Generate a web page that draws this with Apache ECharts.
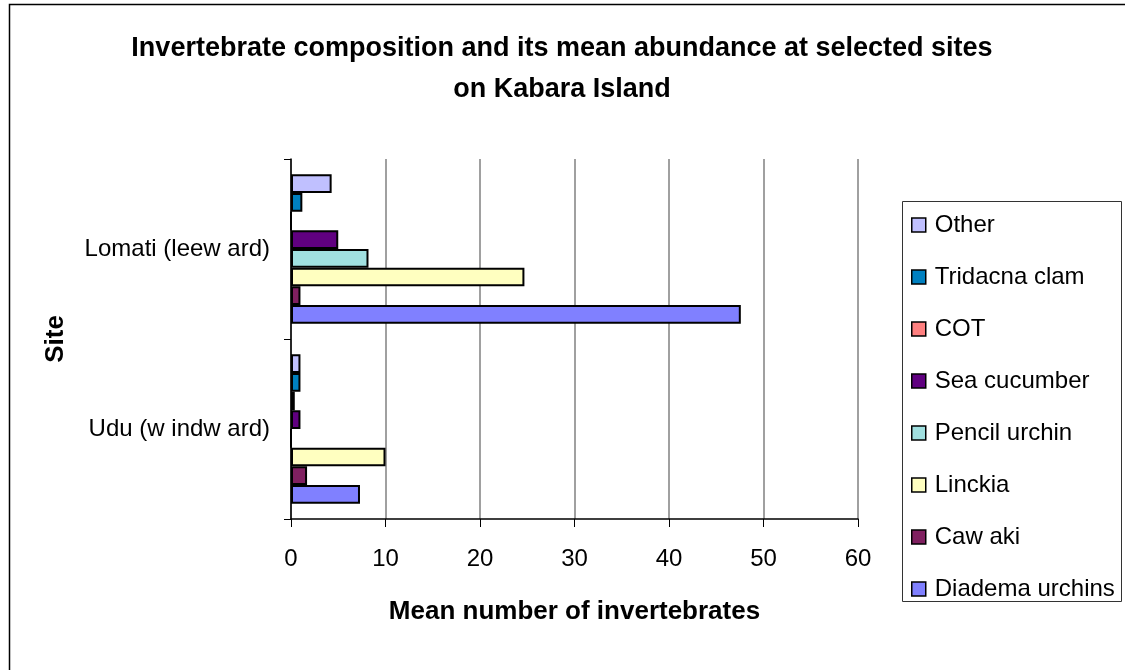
<!DOCTYPE html>
<html>
<head>
<meta charset="utf-8">
<script src="https://cdn.jsdelivr.net/npm/echarts@6/dist/echarts.min.js"></script>
<style>
html,body{margin:0;padding:0;background:#fff;}
#chart{width:1125px;height:670px;}
</style>
</head>
<body>
<div id="chart"></div>
<script>
// Data
const sites = ['Udu (w indw ard)', 'Lomati (leew ard)'];
const seriesNames = ['Other', 'Tridacna clam', 'COT', 'Sea cucumber', 'Pencil urchin', 'Linckia', 'Caw aki', 'Diadema urchins'];
const other = [1.0, 4.3];
const tridacna = [1.0, 1.2];
const cot = [0.4, 0];
const seaCucumber = [1.0, 5.0];
const pencil = [0, 8.2];
const linckia = [10.0, 24.7];
const cawaki = [1.7, 1.0];
const diadema = [7.3, 47.6];
const xTicks = [0, 10, 20, 30, 40, 50, 60];

const values = [other, tridacna, cot, seaCucumber, pencil, linckia, cawaki, diadema];
const colors = ['#C0C0FF', '#0080C0', '#FF8080', '#600080', '#A0E0E0', '#FFFFC0', '#802060', '#8080FF'];

const FONT = '"Liberation Sans", Arial, sans-serif';

const chart = echarts.init(document.getElementById('chart'), null, {renderer: 'canvas'});

const series = seriesNames.map((name, i) => ({
  name: name,
  type: 'bar',
  data: values[i],
  barGap: '0%',
  barCategoryGap: '17%',
  itemStyle: {color: colors[i], borderColor: '#000', borderWidth: 2},
  emphasis: {disabled: true},
  animation: false
}));

chart.setOption({
  animation: false,
  backgroundColor: '#fff',
  title: {
    text: 'Invertebrate composition and its mean abundance at selected sites\non Kabara Island',
    left: 557,
    top: 23,
    textAlign: 'center',
    textStyle: {fontFamily: FONT, fontSize: 27, fontWeight: 'bold', color: '#000', lineHeight: 41}
  },
  graphic: [
    {type: 'rect', left: 7, top: 2, shape: {width: 1130, height: 680},
     style: {fill: 'none', stroke: '#000', lineWidth: 1.5}, silent: true},
    {type: 'rect', left: 902, top: 201, shape: {width: 219, height: 400},
     style: {fill: '#fff', stroke: '#333', lineWidth: 1}, silent: true, z: 0}
  ],
  legend: {
    orient: 'vertical',
    left: 911,
    top: 213,
    padding: 0,
    itemGap: 28,
    itemWidth: 14,
    itemHeight: 14,
    icon: 'rect',
    data: seriesNames,
    itemStyle: {borderColor: '#000', borderWidth: 1.5},
    textStyle: {fontFamily: FONT, fontSize: 24, color: '#000', padding: [0, 0, 0, 4]},
    selectedMode: false,
    z: 5
  },
  grid: {left: 291, top: 159, width: 567, height: 360, containLabel: false},
  xAxis: {
    type: 'value',
    min: xTicks[0],
    max: xTicks[xTicks.length - 1],
    interval: 10,
    name: 'Mean number of invertebrates',
    nameLocation: 'middle',
    nameGap: 80,
    nameTextStyle: {fontFamily: FONT, fontSize: 26, fontWeight: 'bold', color: '#000'},
    axisLine: {show: true, onZero: false, lineStyle: {color: '#000', width: 1.5}},
    axisTick: {show: true, length: 8, lineStyle: {color: '#000'}},
    axisLabel: {fontFamily: FONT, fontSize: 24, color: '#000', margin: 28},
    splitLine: {show: true, lineStyle: {color: '#808080', width: 1.5}}
  },
  yAxis: {
    type: 'category',
    data: sites,
    name: 'Site',
    nameLocation: 'middle',
    nameGap: 222,
    nameRotate: 90,
    nameTextStyle: {fontFamily: FONT, fontSize: 26, fontWeight: 'bold', color: '#000'},
    axisLine: {show: true, lineStyle: {color: '#000', width: 1.5}},
    axisTick: {show: true, length: 7, lineStyle: {color: '#000'}},
    axisLabel: {fontFamily: FONT, fontSize: 24, color: '#000', margin: 21},
    splitLine: {show: false}
  },
  series: series
});
</script>
</body>
</html>
